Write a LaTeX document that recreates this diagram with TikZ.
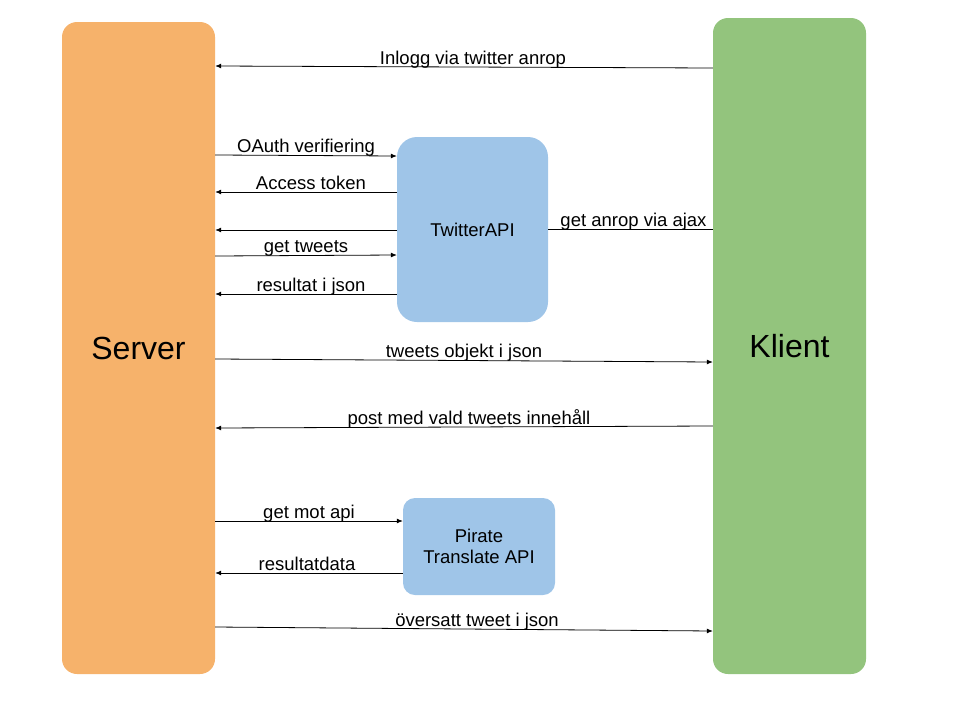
\documentclass[tikz,border=0pt]{standalone}
\usepackage{fontspec}
\setmainfont{Liberation Sans}
\usetikzlibrary{arrows.meta}
\definecolor{serverorange}{HTML}{F6B26B}
\definecolor{klientgreen}{HTML}{93C47D}
\definecolor{apiblue}{HTML}{9FC5E8}
\begin{document}
\begin{tikzpicture}[x=1pt,y=-1pt,
    box/.style={rectangle,draw=none,inner sep=0pt,font=\fontsize{18.5}{21.5}\selectfont,align=center},
    bigbox/.style={box,font=\fontsize{32}{38}\selectfont,rounded corners=15pt,minimum width=153pt},
    msg/.style={-{Latex[length=6pt,width=5pt]},line width=0.8pt},
    wire/.style={line width=0.8pt},
    lbl/.style={font=\fontsize{18.5}{21.5}\selectfont,anchor=base,inner sep=0pt,yshift=3pt}]

    \useasboundingbox (0,0) rectangle (960,720);

    % Server och Klient
    \node[bigbox,fill=serverorange,minimum height=652pt] (srv) at (138.5,348) {Server};
    \node[bigbox,fill=klientgreen,minimum height=656pt] (kli) at (789.5,346) {Klient};

    % API-rutor
    \node[box,fill=apiblue,rounded corners=20pt,minimum width=151pt,minimum height=185pt] (tw) at (472.5,229.5) {TwitterAPI};
    \node[box,fill=apiblue,rounded corners=12pt,minimum width=152pt,minimum height=97pt] (pir) at (479,546.5) {Pirate\\Translate API};

    % Klient -> Server
    \draw[msg] (kli.west |- 0,68) -- node[lbl,midway,xshift=9pt]{Inlogg via twitter anrop} (srv.east |- 0,66);

    % Server <-> TwitterAPI
    \draw[msg] (srv.east |- 0,155) -- node[lbl,midway]{OAuth verifiering} (tw.west |- 0,156);
    \draw[msg] (tw.west |- 0,192) -- node[lbl,midway,xshift=5pt]{Access token} (srv.east |- 0,192);
    \draw[msg] (tw.west |- 0,230) -- (srv.east |- 0,230);
    \draw[msg] (srv.east |- 0,256) -- node[lbl,midway]{get tweets} (tw.west |- 0,255);
    \draw[msg] (tw.west |- 0,294) -- node[lbl,midway,xshift=5pt]{resultat i json} (srv.east |- 0,294);

    % TwitterAPI -- Klient
    \draw[wire] (tw.east |- 0,229) -- node[lbl,midway,xshift=3pt]{get anrop via ajax} (kli.west |- 0,229);

    % Server <-> Klient
    \draw[msg] (srv.east |- 0,359) -- node[lbl,midway]{tweets objekt i json} (kli.west |- 0,362);
    \draw[msg] (kli.west |- 0,426) -- node[lbl,midway,xshift=5pt]{post med vald tweets innehåll} (srv.east |- 0,428);

    % Server <-> Pirate
    \draw[msg] (srv.east |- 0,521) -- node[lbl,midway]{get mot api} (pir.west |- 0,521);
    \draw[msg] (pir.west |- 0,573) -- node[lbl,midway,xshift=-2pt]{resultatdata} (srv.east |- 0,573);

    \draw[msg] (srv.east |- 0,627) -- node[lbl,midway,xshift=13pt]{översatt tweet i json} (kli.west |- 0,631);

\end{tikzpicture}
\end{document}
